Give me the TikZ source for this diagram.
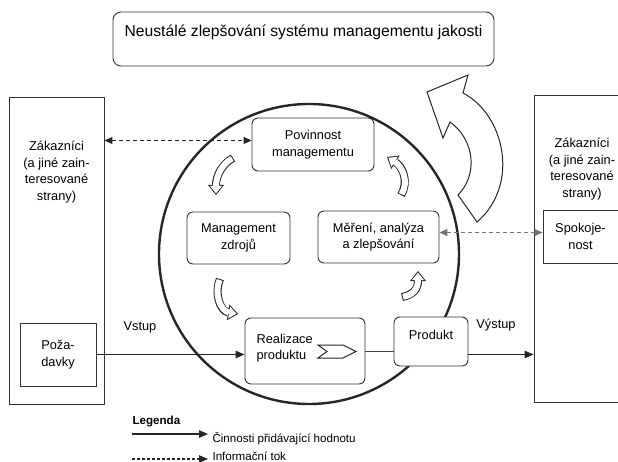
\documentclass[tikz,border=0pt]{standalone}
\usepackage{fontspec}
\setmainfont{Liberation Sans}
\usetikzlibrary{positioning}
\usetikzlibrary{arrows.meta}

\tikzset{
  box/.style={draw=black!80, line width=0.9pt, fill=white, inner sep=0pt},
  roundbox/.style={box, rounded corners=6pt},
  txt/.style={align=center, font=\fontsize{12.8}{16.5}\selectfont},
  legtxt/.style={font=\fontsize{11.6}{14}\selectfont, anchor=west},
  flow/.style={black!85, line width=1.1pt, -{Triangle[length=9pt,width=7.5pt]}},
  info/.style={black!85, line width=1pt, dash pattern=on 4pt off 3pt,
    {Triangle[length=8pt,width=7pt]}-{Triangle[length=8pt,width=7pt]}},
  turn/.style={black!85, line width=8pt, -{Triangle[length=10pt,width=16pt,line width=0pt]}},
  turnfill/.style={white, line width=6pt, shorten <=1pt, shorten >=1.6pt,
    -{Triangle[length=7.4pt,width=12pt,line width=0pt]}}
}
\newcommand{\ohyb}[1]{\draw[turn] #1; \draw[turnfill] #1;}

\begin{document}
\begin{tikzpicture}[x=1pt,y=-1pt]
\useasboundingbox (0,0) rectangle (618,462);

% title
\node[roundbox, rounded corners=8pt, minimum width=381pt, minimum height=54pt] (titel) at (303.5,39) {};
\node[font=\fontsize{15.7}{19}\selectfont] (titeltext) at (303.5,32) {Neustálé zlepšování systému managementu jakosti};

% customers left and right
\node[box, minimum width=95pt, minimum height=307pt] (zakL) at (56.5,250.5) {};
\node[txt] (zakLtext) at (56.5,172) {Zákazníci\\(a jiné zain-\\teresované\\strany)};
\node[box, txt, minimum width=76pt, minimum height=63pt] (pozadavky) at (58,354.5) {Poža-\\davky};

\node[box, minimum width=106pt, minimum height=307pt] (zakR) at (587,248.5) {};
\node[txt] (zakRtext) at (582,169) {Zákazníci\\(a jiné zain-\\teresované\\strany)};
\node[box, txt, minimum width=75pt, minimum height=53pt] (spokojenost) at (580.5,236.5) {Spokoje-\\nost};

% process circle
\draw[black!85, line width=2.4pt] (309,254) circle (150);

\node[roundbox, txt, minimum width=122pt, minimum height=53pt] (povinnost) at (313,144.5) {Povinnost\\managementu};
\node[roundbox, txt, minimum width=103pt, minimum height=52pt] (zdroje) at (238.5,238) {Management\\zdrojů};
\node[roundbox, txt, minimum width=121pt, minimum height=52pt] (mereni) at (378.5,237) {Měření, analýza\\a zlepšování};
\node[roundbox, minimum width=120pt, minimum height=66pt] (realizace) at (305,351) {};
\node[txt, align=left, anchor=west] (realtext) at (253,348) {Realizace\\produktu};
\draw[black!85, line width=1pt] (318,345) -- (343,345) -- (356,351.5) -- (343,358) -- (318,358) -- (327,351.5) -- cycle;
\node[roundbox, minimum width=74pt, minimum height=49pt] (produkt) at (431,341.5) {};
\node[txt] (produkttext) at (431,335) {Produkt};

% cycle arrows
\ohyb{(233,158) .. controls (222,164) and (216,176) .. (216,195)}
\ohyb{(401,195) .. controls (409,182) and (403,167) .. (387,157)}
\ohyb{(220,279) .. controls (214,293) and (220,311) .. (238,314)}
\ohyb{(402,297) .. controls (413,295) and (418,289) .. (418,271)}

% improvement arrow
\draw[black!85, line width=1pt, fill=white] (427,92) -- (468,75) -- (463,93)
  .. controls (505,115) and (520,185) .. (477,222) -- (458,195)
  .. controls (478,175) and (475,140) .. (450,122) -- (443,138) -- cycle;

% flows
\node[txt] (vstup) at (140,327) {Vstup};
\node[txt] (vystup) at (496,325) {Výstup};
\draw[flow] (pozadavky.east) -- (pozadavky.east -| realizace.west);
\draw[black!75, line width=0.9pt] (realizace.east) -- (realizace.east -| produkt.west);
\draw[flow] (produkt.east |- pozadavky.east) -- (pozadavky.east -| zakR.west);
\draw[info] ([yshift=4pt]povinnost.west -| zakL.east) -- ([yshift=4pt]povinnost.west);
\draw[info, black!55] ([yshift=4pt]spokojenost.west) -- ([yshift=4pt]spokojenost.west -| mereni.east);

% legend
\node[font=\bfseries\fontsize{11.6}{14}\selectfont, anchor=west] (legenda) at (129,422) {Legenda};
\coordinate (leg1a) at (132,434);
\coordinate (leg1b) at (208,434);
\draw[flow] (leg1a) -- (leg1b);
\node[legtxt] (leg1) at (209,439) {Činnosti přidávající hodnotu};
\coordinate (leg2a) at (132,459);
\coordinate (leg2b) at (208,459);
\draw[flow, dash pattern=on 3pt off 2pt] (leg2a) -- (leg2b);
\node[legtxt] (leg2) at (209,456) {Informační tok};
\end{tikzpicture}
\end{document}
